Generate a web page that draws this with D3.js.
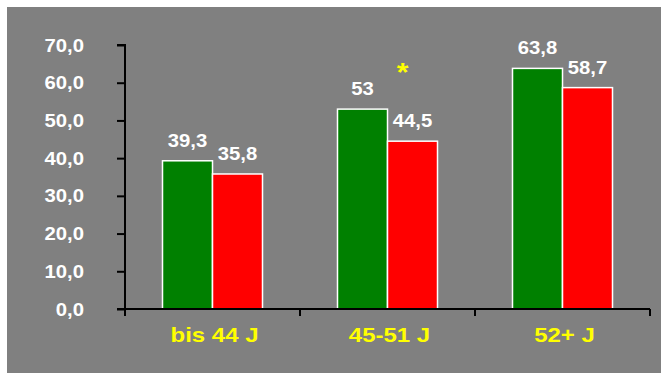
<!DOCTYPE html>
<html><head><meta charset="utf-8">
<script src="https://cdn.jsdelivr.net/npm/d3@7"></script>
<style>
html,body{margin:0;padding:0;background:#fff;}
svg{display:block;}
text{font-family:"Liberation Sans",Arial,sans-serif;font-weight:bold;}
</style></head>
<body>
<svg id="chart" width="661" height="373"></svg>
<script>
const categories = ["bis 44 J", "45-51 J", "52+ J"];
const series = ["Gruppe A", "Gruppe B"];
const greenValues = [39.3, 53, 63.8];
const redValues = [35.8, 44.5, 58.7];
const significance = ["", "*", ""];
const yTicks = [0, 10, 20, 30, 40, 50, 60, 70];
const colors = ["#008000", "#ff0000"];

const svg = d3.select("#chart");
svg.append("rect").attr("x", 7).attr("y", 7).attr("width", 654).attr("height", 366).attr("fill", "#808080");

const x0 = 125, x1 = 650, yBase = 309, yTop = 45;
const y = d3.scaleLinear().domain([0, 70]).range([yBase, yTop]);
const xCat = d3.scaleBand().domain(categories).range([x0, x1]).paddingInner(0).paddingOuter(0);
const groupInner = (xCat.bandwidth() - 100) / 2;
const xSer = d3.scaleBand().domain(series).range([groupInner, groupInner + 100]).padding(0);

const locale = d3.formatLocale({decimal: ",", thousands: ".", grouping: [3], currency: ["", "€"]});
const fmtTick = locale.format(".1f");
const fmtVal = v => String(v).replace(".", ",");
const sx = 1.16;
const fs = 17.5;

// bars
const rows = categories.map((c, i) => ({cat: c, vals: [greenValues[i], redValues[i]], sig: significance[i]}));
const g = svg.append("g");
rows.forEach(r => {
  r.vals.forEach((v, j) => {
    const bx = xCat(r.cat) + xSer(series[j]);
    g.append("rect")
      .attr("x", bx).attr("y", y(v))
      .attr("width", xSer.bandwidth()).attr("height", yBase - y(v))
      .attr("fill", colors[j]).attr("stroke", "#fff").attr("stroke-width", 1.5);
    g.append("text")
      .attr("transform", `translate(${bx + xSer.bandwidth() / 2},${y(v) - 14}) scale(${sx},1)`)
      .attr("text-anchor", "middle").attr("fill", "#fff").attr("font-size", fs)
      .text(fmtVal(v));
  });
  if (r.sig) {
    const bx = xCat(r.cat) + xSer(series[1]) + xSer.bandwidth() / 2 - 10;
    g.append("text")
      .attr("transform", `translate(${bx},${y(r.vals[0]) - 28}) scale(${sx},1)`)
      .attr("text-anchor", "middle").attr("fill", "#ffff00").attr("font-size", 26)
      .text(r.sig);
  }
});

// y axis
const yAxis = d3.axisLeft(y).tickValues(yTicks).tickSize(8).tickPadding(33).tickFormat(fmtTick);
const ya = svg.append("g").attr("transform", `translate(${x0},0)`).call(yAxis);
ya.select(".domain").attr("stroke", "#000").attr("stroke-width", 2).attr("d", `M-8,${yTop}H0V${yBase}`);
ya.selectAll(".tick line").attr("stroke", "#000").attr("stroke-width", 2);
ya.selectAll(".tick text").each(function() {
  const t = d3.select(this);
  const xx = +t.attr("x");
  t.attr("x", 0).attr("dy", null).attr("transform", `translate(${xx},6) scale(${sx},1)`)
   .attr("fill", "#fff").attr("font-size", fs).attr("font-family", "Liberation Sans, Arial, sans-serif").attr("font-weight", "bold");
});

// x axis
const boundaries = [x0].concat(categories.map(c => xCat(c) + xCat.bandwidth()));
const xa = svg.append("g");
xa.append("path").attr("d", `M${x0 - 8},${yBase}H${x1}`).attr("stroke", "#000").attr("stroke-width", 2).attr("fill", "none");
xa.selectAll("line.xt").data(boundaries).join("line").attr("class", "xt")
  .attr("x1", d => d).attr("x2", d => d).attr("y1", yBase).attr("y2", yBase + 7)
  .attr("stroke", "#000").attr("stroke-width", 2);
xa.selectAll("text.cat").data(categories).join("text").attr("class", "cat")
  .attr("transform", d => `translate(${xCat(d) + xCat.bandwidth() / 2 + 2},342) scale(1.2,1)`)
  .attr("text-anchor", "middle").attr("fill", "#ffff00").attr("font-size", 20)
  .text(d => d);
</script>
</body></html>
